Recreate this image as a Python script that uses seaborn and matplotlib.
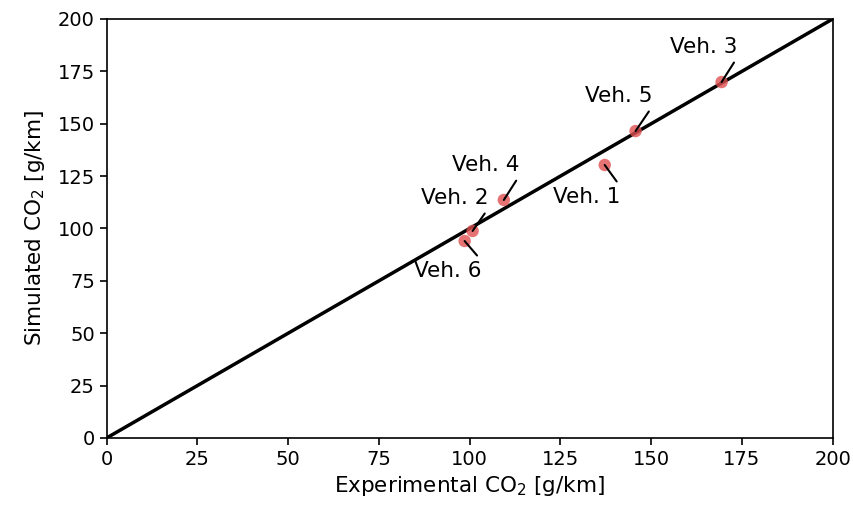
import matplotlib
matplotlib.use("Agg")
import matplotlib.pyplot as plt
import seaborn as sns
import pandas as pd

labels = ["Veh. 1", "Veh. 2", "Veh. 3", "Veh. 4", "Veh. 5", "Veh. 6"]
exp_co2 = [137.2, 100.8, 169.4, 109.4, 145.7, 98.6]
sim_co2 = [130.3, 98.8, 169.9, 113.6, 146.5, 94.0]
# label anchor (right corner) positions in data units, with vertical alignment
label_x = [141.6, 105.2, 173.8, 113.8, 150.4, 103.3]
label_y = [119.8, 109.8, 181.9, 125.5, 158.5, 84.5]
label_va = ["top", "bottom", "bottom", "bottom", "bottom", "top"]
diag = [0, 200]

sns.set_style("ticks")
plt.rcParams["font.family"] = ["DejaVu Sans"]
plt.rcParams["text.color"] = "black"
plt.rcParams["axes.labelcolor"] = "black"
plt.rcParams["xtick.color"] = "black"
plt.rcParams["ytick.color"] = "black"

df = pd.DataFrame({"exp": exp_co2, "sim": sim_co2, "label": labels})

fig = plt.figure(figsize=(8.54, 5.08), dpi=100)
ax = fig.add_axes([0.125, 0.138, 0.85, 0.8246])

sns.lineplot(x=diag, y=diag, color="black", linewidth=2.5, ax=ax)
sns.scatterplot(data=df, x="exp", y="sim", color="#e05050", alpha=0.8,
                s=80, edgecolor="none", ax=ax, zorder=3)

for lab, px, py, tx, ty, va in zip(labels, exp_co2, sim_co2, label_x, label_y, label_va):
    rel = (1, 1) if va == "top" else (1, 0)
    ax.annotate(lab, xy=(px, py), xytext=(tx, ty), ha="right", va=va,
                fontsize=15.5, color="black",
                arrowprops=dict(arrowstyle="-", color="black", lw=1.5,
                                relpos=rel, shrinkA=2, shrinkB=0))

ax.set_xlim(0, 200)
ax.set_ylim(0, 200)
ax.set_xticks(range(0, 201, 25))
ax.set_yticks(range(0, 201, 25))
ax.tick_params(labelsize=14, width=1.2, length=5, color="black", labelcolor="black")
for sp in ax.spines.values():
    sp.set_visible(True)
    sp.set_color("black")
    sp.set_linewidth(1.2)
ax.set_xlabel("Experimental CO$_2$ [g/km]", fontsize=15.5, color="black")
ax.set_ylabel("Simulated CO$_2$ [g/km]", fontsize=15.5, color="black", labelpad=8)

fig.savefig("out.png", dpi=100)
